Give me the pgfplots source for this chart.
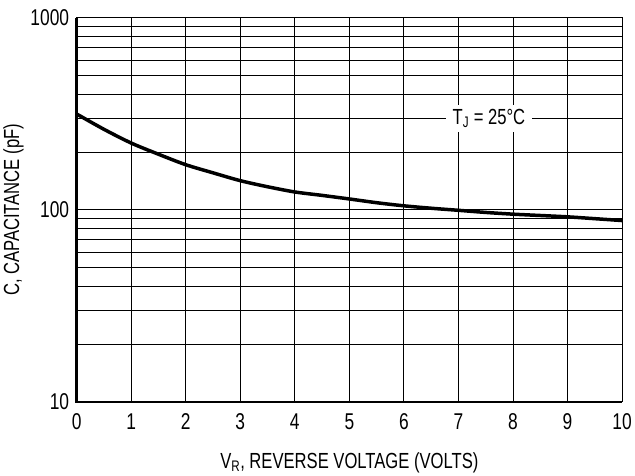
\documentclass[border=0pt]{standalone}
\usepackage{fontspec}
\setmainfont[FakeStretch=0.76]{Liberation Sans}
\usepackage{pgfplots}
\pgfplotsset{compat=1.18}
\begin{document}
\begin{tikzpicture}
\begin{axis}[
  scale only axis, width=547bp, height=385bp,
  xmin=0, xmax=10, ymode=log, ymin=10, ymax=1000,
  xtick={0,1,...,10},
  ytick={10,100,1000}, yticklabels={10,100,1000},
  minor ytick={20,30,40,50,60,70,80,90,200,300,400,500,600,700,800,900},
  xmajorgrids=true, ymajorgrids=true, yminorgrids=true,
  major grid style={black, line width=0.9bp},
  minor grid style={black, line width=0.9bp},
  tick style={draw=none},
  axis line style={black, line width=0.9bp},
  /pgf/number format/assume math mode=true,
  ticklabel style={font=\fontsize{23}{23}\selectfont},
  xticklabel style={yshift=-8bp},
  yticklabel style={xshift=-4bp},
  label style={font=\fontsize{22}{22}\selectfont},
  xlabel={V\textsubscript{R}, REVERSE VOLTAGE (VOLTS)},
  ylabel={C, CAPACITANCE (pF)},
  xlabel style={yshift=-16bp},
  ylabel style={yshift=0bp},
  clip=false,
]
\addplot[black, line width=3.5bp, smooth] coordinates {
  (0,316) (0.5,263) (1,223) (1.5,195) (2,172) (2.5,156) (3,142) (3.5,132)
  (4,124) (4.5,119) (5,114) (5.5,109) (6,105) (6.5,102) (7,99.5) (7.5,97)
  (8,95) (8.5,93.5) (9,92) (9.5,90) (10,88)
};
\node[fill=white, inner xsep=7bp, inner ysep=4bp, font=\fontsize{22}{22}\selectfont]
  at (axis cs:7.56,300) {T\textsubscript{J} = 25°C};
\end{axis}
\draw[black, line width=2.6bp] (current axis.north west) -- (current axis.south west) -- (current axis.south east);
\path (current axis.south west) ++(-76bp,-67bp) (current axis.north east) ++(12bp,18bp);
\end{tikzpicture}
\end{document}
